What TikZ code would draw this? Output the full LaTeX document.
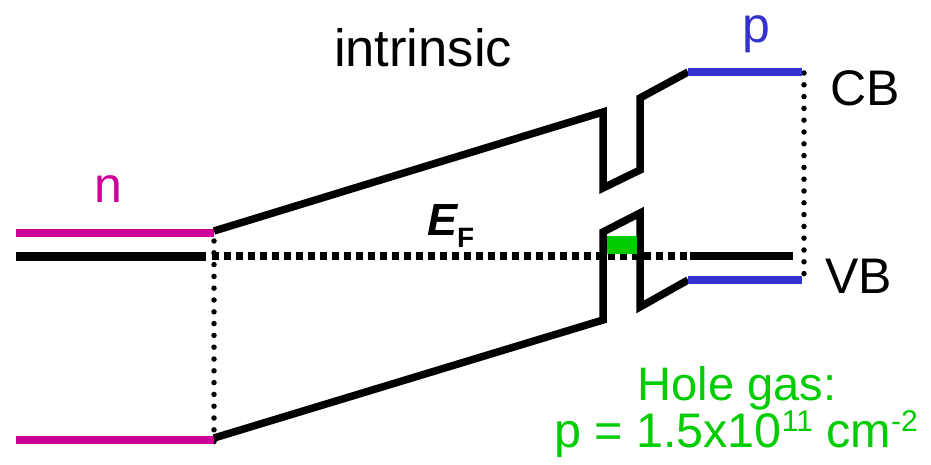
\documentclass[tikz,border=0pt]{standalone}
\usepackage{fontspec}
\setmainfont{Liberation Sans}
\definecolor{nmag}{HTML}{CC0099}
\definecolor{pblue}{HTML}{3333CC}
\definecolor{hgreen}{HTML}{00CC00}
\begin{document}
\begin{tikzpicture}[x=1pt,y=-1pt,
  band/.style={line width=7.5pt,line join=miter,line cap=butt},
  rdots/.style={line width=5.5pt,line cap=round,dash pattern=on 0pt off 11.8pt},
  sqdots/.style={line width=7.5pt,dash pattern=on 7pt off 5pt},
  lbl/.style={inner sep=0pt,anchor=base,font=\fontsize{50}{60}\selectfont}]
\useasboundingbox (0,0) rectangle (931,465);
% coordinates
\coordinate (nT0) at (16,233); \coordinate (nT1) at (214,233);
\coordinate (nB0) at (16,440); \coordinate (nB1) at (214,440);
\coordinate (f0) at (16,256); \coordinate (f1) at (206,256);
\coordinate (f2) at (212,256); \coordinate (f3) at (690,256); \coordinate (f4) at (793,256);
\coordinate (c0) at (214,231); \coordinate (c1) at (603,112); \coordinate (c2) at (603,188);
\coordinate (c3) at (640,170); \coordinate (c4) at (640,98); \coordinate (c5) at (688,72);
\coordinate (c6) at (802,72);
\coordinate (v0) at (214,438); \coordinate (v1) at (603,320); \coordinate (v2) at (603,232);
\coordinate (v3) at (640,213); \coordinate (v4) at (640,307); \coordinate (v5) at (688,280);
\coordinate (v6) at (802,280);
\coordinate (dl0) at (214,241); \coordinate (dl1) at (214,447);
\coordinate (dr0) at (804,73); \coordinate (dr1) at (804,285);
% dotted verticals
\draw[rdots] (dl0) -- (dl1);
\draw[rdots] (dr0) -- (dr1);
% Fermi level
\draw[line width=9pt] (f0) -- (f1);
\draw[sqdots] (f2) -- (f3);
\draw[band] (f3) -- (f4);
% n side
\draw[band,nmag] (nT0) -- (nT1);
\draw[band,nmag] (nB0) -- (nB1);
% bands
\draw[band] (c0) -- (c1) -- (c2) -- (c3) -- (c4) -- (c5);
\draw[band,pblue] (c5) -- (c6);
\draw[band] (v0) -- (v1) -- (v2) -- (v3) -- (v4) -- (v5);
\draw[band,pblue] (v5) -- (v6);
% hole gas
\fill[hgreen] (606.5,236) rectangle (637,254);
% labels
\node[lbl,font=\fontsize{52.5}{60}\selectfont] (intr) at (423,67) {intrinsic};
\node[lbl,text=nmag] (nlab) at (108,203) {n};
\node[lbl,text=pblue] (plab) at (756,43) {p};
\node[lbl,anchor=base west] (cb) at (830,106) {CB};
\node[lbl,anchor=base west] (vb) at (825,293) {VB};
\node[inner sep=0pt,anchor=base west] (ef) at (427,235)
  {{\fontsize{45}{50}\selectfont\bfseries\itshape E}{\fontsize{28}{30}\selectfont\bfseries\raisebox{-12pt}{F}}};
\node[lbl,text=hgreen,font=\fontsize{47}{60}\selectfont] (hg1) at (737,400) {Hole gas:};
\node[lbl,text=hgreen,font=\fontsize{48.5}{60}\selectfont] (hg2) at (736,447)
  {p = 1.5x10{\fontsize{30}{32}\selectfont\raisebox{16pt}{11}} cm{\fontsize{30}{32}\selectfont\raisebox{16pt}{-2}}};
\end{tikzpicture}
\end{document}
